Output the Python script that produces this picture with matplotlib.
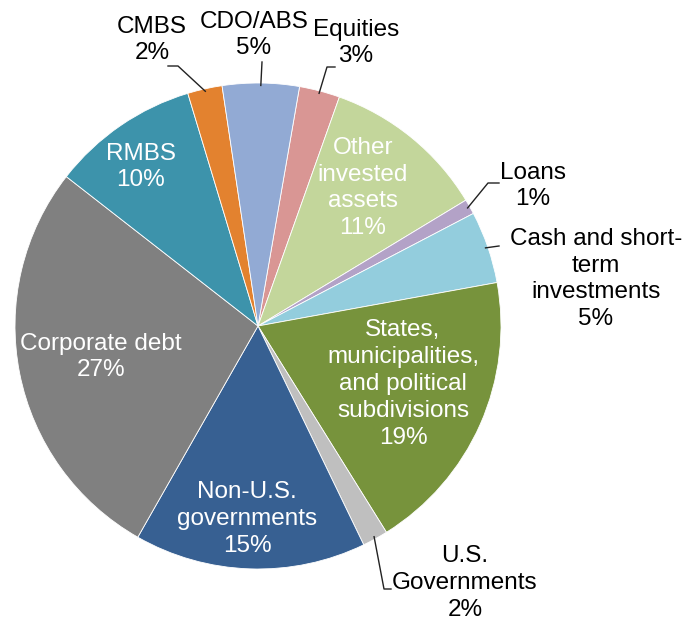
import numpy as np
import matplotlib
matplotlib.use('Agg')
import matplotlib.pyplot as plt

plt.rcParams['font.family'] = ['Liberation Sans', 'DejaVu Sans']

# clockwise from the Equities slice, shares in percent
labels = ['Equities', 'Other\ninvested\nassets', 'Loans', 'Cash and short-\nterm\ninvestments',
          'States,\nmunicipalities,\nand political\nsubdivisions', 'U.S.\nGovernments',
          'Non-U.S.\ngovernments', 'Corporate debt', 'RMBS', 'CMBS', 'CDO/ABS']
shares = [2.7, 10.9, 1.0, 4.8, 19.0, 1.7, 15.4, 27.3, 9.8, 2.3, 5.1]
colors = ['#D99694', '#C3D69B', '#B3A2C7', '#93CDDD', '#77933C', '#BFBFBF',
          '#376092', '#808080', '#3D93AB', '#E3822F', '#92AAD4']
inside = [False, True, False, False, True, False, True, True, True, False, False]

# label block centres in pixel coordinates (pie centre at 258,326, radius 243)
cx, cy, R = 258.0, 326.0, 243.0
W, H = 685, 622
label_px = [(356, 43), (363, 188), (533, 186), (596, 279), (403, 384), (465, 583),
            (247, 519), (101, 357), (141, 167), (152, 40), (254, 35)]
# leader line points after the slice edge (pixels)
leader_px = {0: [(327, 67), (335, 67)],
             2: [(488, 183), (499, 183)],
             3: [(499, 246)],
             5: [(384, 589), (391, 589)],
             9: [(178, 66), (168, 66)],
             10: [(262, 62)]}

def to_data(p):
    return ((p[0] - cx) / R, (cy - p[1]) / R)

fig = plt.figure(figsize=(W / 100, H / 100), dpi=100)
ax = fig.add_axes([0, 0, 1, 1])

wedges, _ = ax.pie(shares, colors=colors, startangle=80.15, counterclock=False,
                   radius=1, center=(0, 0), frame=True,
                   wedgeprops=dict(edgecolor='white', linewidth=0.6))
ax.set_xlim(-cx / R, (W - cx) / R)
ax.set_ylim(-(H - cy) / R, cy / R)
ax.set_aspect('equal')
ax.axis('off')

for i, w in enumerate(wedges):
    mid = np.deg2rad((w.theta1 + w.theta2) / 2)
    x, y = to_data(label_px[i])
    text = labels[i] + '\n' + f'{shares[i]:.0f}%'
    ax.text(x, y, text, ha='center', va='center', fontsize=17.5, linespacing=1.28,
            color='white' if inside[i] else 'black')
    if i in leader_px:
        pts = [(np.cos(mid) * 0.99, np.sin(mid) * 0.99)] + [to_data(p) for p in leader_px[i]]
        xs, ys = zip(*pts)
        ax.plot(xs, ys, color='#222222', lw=1.0)

fig.savefig('out.png', dpi=100, facecolor='white')
